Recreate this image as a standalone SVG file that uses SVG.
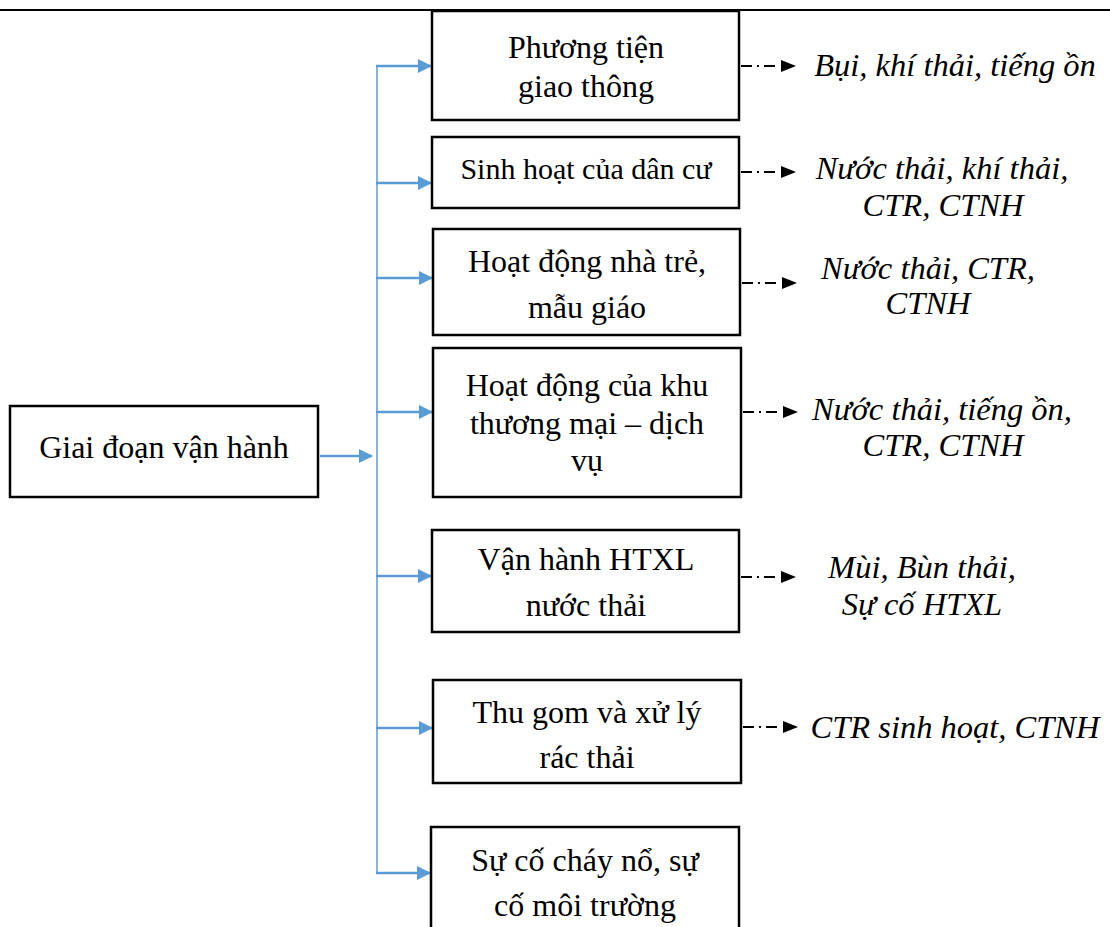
<svg xmlns="http://www.w3.org/2000/svg" width="1110" height="927" viewBox="0 0 1110 927">
<style>
.box{fill:#fff;stroke:#000;stroke-width:2.5}
.t{font-family:"Liberation Serif","Times New Roman",serif;font-size:32px;fill:#000;text-anchor:middle}
.i{font-family:"Liberation Serif","Times New Roman",serif;font-size:32.5px;font-style:italic;fill:#000;text-anchor:middle}
.blue{stroke:#5B9BD5;stroke-width:2.5;fill:none}
.dash{stroke:#000;stroke-width:2;fill:none;stroke-dasharray:11 5 2 5 11 100}
</style>
<defs>
<marker id="ba" markerWidth="14" markerHeight="14" refX="13" refY="7" orient="auto" markerUnits="userSpaceOnUse"><path d="M0,0 L14,7 L0,14 Z" fill="#5B9BD5"/></marker>
<marker id="ka" markerWidth="15" markerHeight="12" refX="15" refY="6" orient="auto" markerUnits="userSpaceOnUse"><path d="M0,0 L15,6 L0,12 Z" fill="#000"/></marker>
</defs>
<line x1="0" y1="10" x2="1110" y2="10" stroke="#000" stroke-width="2"/>
<g id="connectors">
<line x1="377" y1="66" x2="377" y2="873" stroke="#5B9BD5" stroke-width="1.5"/>
<line class="blue" x1="320" y1="456" x2="372" y2="456" marker-end="url(#ba)"/>
<line class="blue" x1="376" y1="66" x2="431" y2="66" marker-end="url(#ba)"/>
<line class="blue" x1="376" y1="183" x2="431" y2="183" marker-end="url(#ba)"/>
<line class="blue" x1="376" y1="278" x2="432" y2="278" marker-end="url(#ba)"/>
<line class="blue" x1="376" y1="412" x2="432" y2="412" marker-end="url(#ba)"/>
<line class="blue" x1="376" y1="576" x2="431" y2="576" marker-end="url(#ba)"/>
<line class="blue" x1="376" y1="728" x2="432" y2="728" marker-end="url(#ba)"/>
<line class="blue" x1="376" y1="873" x2="430" y2="873" marker-end="url(#ba)"/>
<line class="dash" x1="741" y1="66" x2="796" y2="66" marker-end="url(#ka)"/>
<line class="dash" x1="741" y1="172" x2="796" y2="172" marker-end="url(#ka)"/>
<line class="dash" x1="742" y1="283" x2="797" y2="283" marker-end="url(#ka)"/>
<line class="dash" x1="743" y1="412" x2="798" y2="412" marker-end="url(#ka)"/>
<line class="dash" x1="741" y1="577" x2="796" y2="577" marker-end="url(#ka)"/>
<line class="dash" x1="743" y1="727" x2="798" y2="727" marker-end="url(#ka)"/>
</g>
<g id="n0"><rect class="box" x="10" y="406" width="308" height="91"/><text class="t" x="164" y="458">Giai đoạn vận hành</text></g>
<g id="n1"><rect class="box" x="432" y="11" width="307" height="109"/><text class="t" x="586" y="58">Phương tiện</text><text class="t" x="586" y="97">giao thông</text></g>
<g id="n2"><rect class="box" x="432" y="137" width="307" height="71"/><text class="t" x="586" y="179" style="font-size:30px">Sinh hoạt của dân cư</text></g>
<g id="n3"><rect class="box" x="433" y="229" width="307" height="106"/><text class="t" x="587" y="272">Hoạt động nhà trẻ,</text><text class="t" x="587" y="318">mẫu giáo</text></g>
<g id="n4"><rect class="box" x="433" y="348" width="308" height="149"/><text class="t" x="587" y="396">Hoạt động của khu</text><text class="t" x="587" y="434">thương mại – dịch</text><text class="t" x="587" y="471">vụ</text></g>
<g id="n5"><rect class="box" x="432" y="530" width="307" height="102"/><text class="t" x="586" y="570">Vận hành HTXL</text><text class="t" x="586" y="616">nước thải</text></g>
<g id="n6"><rect class="box" x="433" y="680" width="308" height="103"/><text class="t" x="587" y="723">Thu gom và xử lý</text><text class="t" x="587" y="768">rác thải</text></g>
<g id="n7"><rect class="box" x="431" y="827" width="308" height="110"/><text class="t" x="585" y="871">Sự cố cháy nổ, sự</text><text class="t" x="585" y="916">cố môi trường</text></g>
<g id="l1"><text class="i" x="955" y="76">Bụi, khí thải, tiếng ồn</text></g>
<g id="l2"><text class="i" x="942" y="179">Nước thải, khí thải,</text><text class="i" x="943" y="216">CTR, CTNH</text></g>
<g id="l3"><text class="i" x="928" y="279">Nước thải, CTR,</text><text class="i" x="928" y="314">CTNH</text></g>
<g id="l4"><text class="i" x="942" y="420">Nước thải, tiếng ồn,</text><text class="i" x="943" y="456">CTR, CTNH</text></g>
<g id="l5"><text class="i" x="922" y="578">Mùi, Bùn thải,</text><text class="i" x="922" y="615">Sự cố HTXL</text></g>
<g id="l6"><text class="i" x="955" y="738">CTR sinh hoạt, CTNH</text></g>
</svg>
